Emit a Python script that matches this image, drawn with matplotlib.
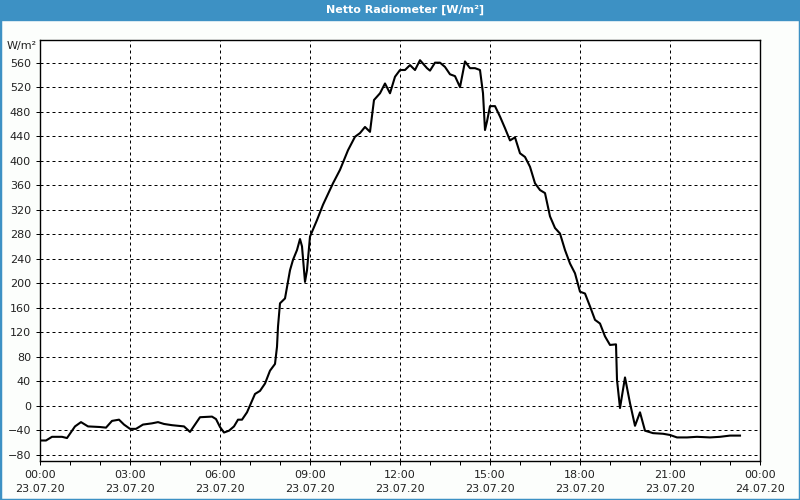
import matplotlib
matplotlib.use("Agg")
import matplotlib.pyplot as plt
import matplotlib.dates as mdates
import pandas as pd
from matplotlib.patches import Rectangle

# Messwerte Netto Radiometer, 23.07.20 (Minuten seit Mitternacht, W/m²)
minutes = [0, 12, 24, 44, 54, 70, 82, 96, 120, 132, 144, 158, 168, 180, 192, 206,
           224, 236, 248, 264, 288, 300, 320, 344, 352, 360, 368, 378, 388, 396,
           404, 414, 430, 440, 450, 460, 470, 474, 476, 480, 490, 500, 506, 514,
           520, 524, 530, 534, 540, 554, 566, 586, 600, 616, 630, 640, 650, 660,
           668, 680, 690, 700, 710, 720, 730, 740, 750, 760, 774, 780, 790, 800,
           810, 820, 830, 840, 850, 860, 870, 880, 886, 890, 894, 900, 910, 920,
           930, 940, 950, 960, 970, 980, 990, 1000, 1010, 1020, 1030, 1040, 1050,
           1060, 1070, 1080, 1090, 1100, 1110, 1120, 1130, 1140, 1152, 1154, 1160,
           1170, 1180, 1190, 1200, 1210, 1226, 1246, 1260, 1274, 1294, 1314, 1340,
           1360, 1380, 1400]
values = [-57, -57, -51, -51, -53, -34, -27, -34, -35, -36, -25, -23, -31, -38, -38, -31,
          -29, -27, -30, -32, -34, -43, -19, -18, -22, -35, -44, -41, -34, -23,
          -23, -11, 19, 24, 36, 57, 68, 96, 129, 167, 175, 221, 238, 254,
          272, 260, 202, 221, 276, 303, 328, 363, 385, 417, 439, 445, 455, 447,
          499, 510, 526, 510, 537, 548, 548, 556, 548, 564, 551, 547, 560, 560,
          553, 541, 538, 520, 562, 551, 551, 548, 510, 450, 464, 489, 489, 472,
          453, 433, 438, 412, 406, 390, 363, 352, 347, 309, 290, 281, 254,
          232, 216, 186, 183, 162, 140, 134, 113, 99, 100, 42, -4,
          46, 4, -33, -11, -41, -45, -46, -48, -52, -52, -51, -52,
          -51, -49, -49]

y_ticks = list(range(-80, 561, 40))
title = "Netto Radiometer [W/m²]"
unit = "W/m²"

start = pd.Timestamp("2020-07-23")
times = start + pd.to_timedelta(minutes, unit="min")

blue = "#3d91c4"
fig = plt.figure(figsize=(8, 5), dpi=100, facecolor="#fcfefc")

# Titelleiste und Rahmen
fig.patches.append(Rectangle((0, 1 - 20 / 500), 1, 20 / 500, transform=fig.transFigure,
                             color=blue, zorder=0))
fig.patches.append(Rectangle((0, 0), 1, 1, transform=fig.transFigure, fill=False,
                             edgecolor=blue, linewidth=2.5, zorder=0))
fig.text(0.506, 1 - 10 / 500, title, color="white", fontsize=8, fontweight="bold",
         ha="center", va="center")

ax = fig.add_axes([40 / 800, 1 - 460.7 / 500, 720 / 800, 420.7 / 500])
ax.set_facecolor("white")
ax.plot(times, values, color="black", linewidth=1.5)

ax.set_xlim(start, start + pd.Timedelta(hours=24))
ax.set_ylim(-90, 597)
ax.set_yticks(y_ticks)
ax.xaxis.set_major_locator(mdates.HourLocator(byhour=range(0, 24, 3)))
ax.xaxis.set_minor_locator(mdates.HourLocator())
ax.xaxis.set_major_formatter(mdates.DateFormatter("%H:%M\n%d.%m.%y"))

ax.grid(True, which="major", color="black", linewidth=0.72, linestyle=(0, (3, 3)))
ax.tick_params(axis="both", which="both", labelsize=8, labelcolor="#222222",
               direction="out", width=0.72, length=3)
ax.tick_params(axis="x", which="major", pad=3.5)
for lbl in ax.get_xticklabels():
    lbl.set_linespacing(1.5)
for s in ax.spines.values():
    s.set_linewidth(1)

fig.text(37 / 800, 1 - 46 / 500, unit, fontsize=8, color="#222222", ha="right", va="center")

fig.savefig("out.png", dpi=100, facecolor=fig.get_facecolor())
